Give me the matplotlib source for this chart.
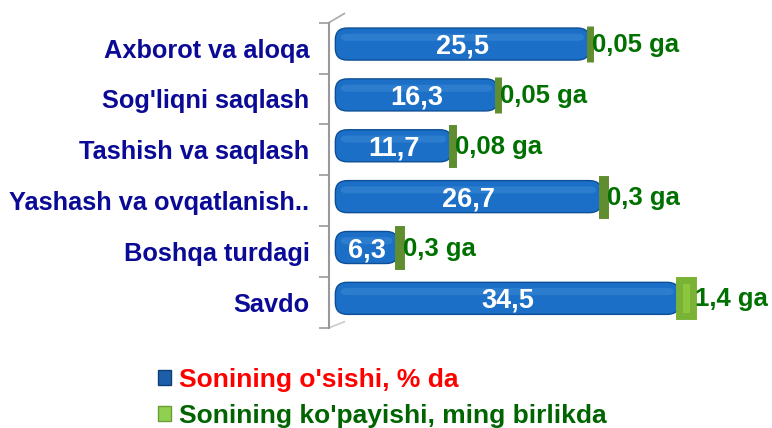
import matplotlib.pyplot as plt
from matplotlib.patches import FancyBboxPatch
import numpy as np

categories = ["Axborot va aloqa", "Sog'liqni saqlash", "Tashish va saqlash",
              "Yashash va ovqatlanish..", "Boshqa turdagi", "Savdo"]
growth = [25.5, 16.3, 11.7, 26.7, 6.3, 34.5]
growth_labels = ["25,5", "16,3", "11,7", "26,7", "6,3", "34,5"]
increase = [0.05, 0.05, 0.08, 0.3, 0.3, 1.4]
increase_labels = ["0,05 ga", "0,05 ga", "0,08 ga", "0,3 ga", "0,3 ga", "1,4 ga"]

plt.rcParams['font.family'] = ['Liberation Sans', 'DejaVu Sans']

fig = plt.figure(figsize=(7.72, 4.28), dpi=100)
ax = fig.add_axes([0.426, 0.234, 0.574, 0.713])

y = np.arange(len(categories))[::-1]
yb = y + 0.08   # bars sit a little high (3d depth)
h = 0.63

bars = ax.barh(yb, growth, h, color='#1c6fc6', label="Sonining o'sishi, % da")
bars2 = ax.barh(yb, increase, h + 0.08, left=growth, color='#6f9f38',
                edgecolor='#5f8d30', linewidth=5,
                label="Sonining ko'payishi, ming birlikda", zorder=3)
bars2[-1].set_facecolor('#8cc63f')
bars2[-1].set_edgecolor('#7ab236')

# rounded cylinder look for the blue bars
for b in bars:
    b.set_visible(False)
    p = FancyBboxPatch((b.get_x(), b.get_y()), b.get_width(), b.get_height(),
                       boxstyle="round,pad=0,rounding_size=1.2",
                       mutation_aspect=0.19, facecolor='#1c6fc6',
                       edgecolor='#0d4f96', linewidth=1.0, zorder=2)
    ax.add_patch(p)
    hl = FancyBboxPatch((b.get_x() + 0.5, b.get_y() + h * 0.6), b.get_width() - 1.0, h * 0.22,
                        boxstyle="round,pad=0,rounding_size=0.6",
                        mutation_aspect=0.19, facecolor='#4f9ae0',
                        edgecolor='none', alpha=0.35, zorder=2)
    ax.add_patch(hl)

for i in range(len(categories)):
    ax.text(growth[i] / 2, yb[i] - 0.05, growth_labels[i], ha='center', va='center',
            color='white', fontsize=19.5, fontweight='bold', zorder=4)
    ax.text(growth[i] + increase[i] + 0.2, yb[i] - 0.02, increase_labels[i],
            ha='left', va='center', color='#007000', fontsize=18.5,
            fontweight='bold', zorder=4)

ax.set_xlim(-0.65, 43.8)
ax.set_ylim(-0.5, len(categories) - 0.5)
ax.set_yticks(y)
ax.set_yticklabels(categories, color='#0a0a96', fontsize=18.3, fontweight='bold')
ax.tick_params(axis='y', length=0, pad=14)
ax.set_yticks(np.arange(-0.5, len(categories), 1), minor=True)
ax.tick_params(axis='y', which='minor', length=7, color='#999999', width=1.2)
ax.set_xticks([])
for s in ['top', 'right', 'bottom']:
    ax.spines[s].set_visible(False)
ax.spines['left'].set_color('#999999')
ax.spines['left'].set_linewidth(1.5)
# small slanted stubs of the 3d wall
ax.plot([0, 0.035], [1, 1.03], transform=ax.transAxes, color='#aaaaaa',
        lw=1.2, clip_on=False)
ax.plot([0, 0.035], [0, 0.02], transform=ax.transAxes, color='#cccccc',
        lw=1.2, clip_on=False)

leg = fig.legend(handles=[bars, bars2], loc='upper left',
                 bbox_to_anchor=(0.174, 0.195), frameon=False,
                 prop={'size': 19, 'weight': 'bold'},
                 handlelength=0.5, handleheight=0.5, handletextpad=0.3,
                 labelspacing=0.45, labelcolor=['#ff0000', '#006400'])
leg.legend_handles[0].set_visible(True)
leg.legend_handles[0].set_facecolor('#1c5fa8')
leg.legend_handles[0].set_edgecolor('#0d3f76')
leg.legend_handles[1].set_facecolor('#8fd050')
leg.legend_handles[1].set_edgecolor('#6c9c36')
leg.legend_handles[1].set_linewidth(1)

fig.savefig('out.png', dpi=100, facecolor='white')
